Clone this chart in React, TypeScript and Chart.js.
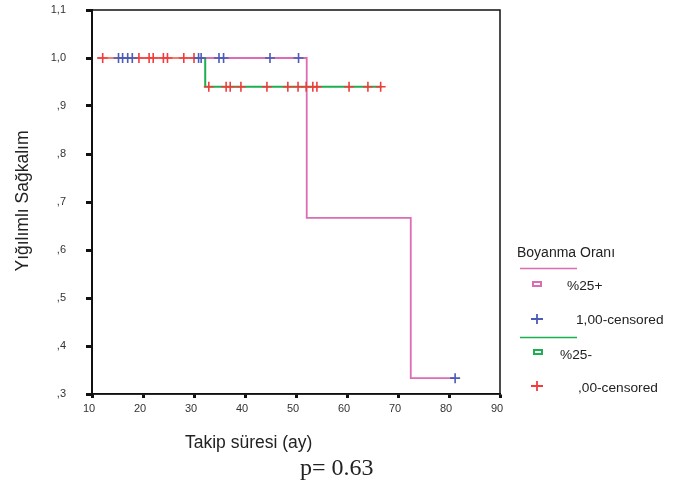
import React, { useEffect, useRef } from "react";
import { Chart, registerables } from "chart.js";

Chart.register(...registerables);

// Kaplan-Meier step curves (event times in months, survival after each time)
const pinkTimes = [11, 52.1, 72.5, 81.2];
const pinkSurv = [1, 0.667, 0.333, 0.333];
const greenTimes = [11, 32.2, 66.8];
const greenSurv = [1, 0.94, 0.94];

// censored observations
const blueCensorTimes = [15.2, 16.0, 17.0, 17.9, 30.9, 31.4, 34.9, 35.8, 44.9, 50.5, 81.2];
const blueCensorSurv = [1, 1, 1, 1, 1, 1, 1, 1, 1, 1, 0.333];
const redCensorTimes = [12.1, 19.2, 21.2, 22.0, 24.0, 24.8, 28.0, 30.0, 32.9, 36.3, 37.1, 39.2, 44.3, 48.4, 50.4, 52.0, 53.3, 54.1, 60.4, 64.1, 66.6];
const redCensorSurv = [1, 1, 1, 1, 1, 1, 1, 1, 0.94, 0.94, 0.94, 0.94, 0.94, 0.94, 0.94, 0.94, 0.94, 0.94, 0.94, 0.94, 0.94];

const xTicks = [10, 20, 30, 40, 50, 60, 70, 80, 90];
const yTicks = [0.3, 0.4, 0.5, 0.6, 0.7, 0.8, 0.9, 1.0, 1.1];

const PINK = "#dc6cb4";
const GREEN = "#1fae52";
const SALMON = "#f08070";
const BLUE = "#4a5cb6";
const RED = "#f23c3c";
const FONT = "'Liberation Sans', Arial, sans-serif";

function steps(times: number[], surv: number[]) {
  const pts: { x: number; y: number }[] = [{ x: times[0], y: surv[0] }];
  for (let i = 1; i < times.length; i++) {
    pts.push({ x: times[i], y: surv[i - 1] });
    pts.push({ x: times[i], y: surv[i] });
  }
  return pts;
}

function fmtY(v: number) {
  const s = v.toFixed(1).replace(".", ",");
  return s.startsWith("0") ? s.slice(1) : s;
}

const overlay = {
  id: "overlay",
  afterDraw(chart: any) {
    const ctx = chart.ctx as CanvasRenderingContext2D;
    const a = chart.chartArea;
    ctx.save();
    // frame
    ctx.strokeStyle = "#111";
    ctx.lineWidth = 1.5;
    ctx.strokeRect(a.left, a.top, a.right - a.left, a.bottom - a.top);
    ctx.lineWidth = 2;
    ctx.beginPath();
    ctx.moveTo(a.left, a.top);
    ctx.lineTo(a.left, a.bottom);
    ctx.stroke();

    // y title
    ctx.fillStyle = "#222";
    ctx.font = `17.5px ${FONT}`;
    ctx.textAlign = "center";
    ctx.textBaseline = "middle";
    ctx.save();
    ctx.translate(23, 201);
    ctx.rotate(-Math.PI / 2);
    ctx.fillText("Yığılımlı Sağkalım", 0, 0);
    ctx.restore();

    // x title
    ctx.textAlign = "left";
    ctx.font = `17.5px ${FONT}`;
    ctx.fillText("Takip süresi (ay)", 185, 443);
    ctx.font = `24px 'Liberation Serif', 'Times New Roman', serif`;
    ctx.fillText("p= 0.63", 300, 469);

    // legend
    ctx.font = `14px ${FONT}`;
    ctx.fillText("Boyanma Oranı", 517, 253);
    ctx.lineWidth = 1.5;
    ctx.strokeStyle = PINK;
    ctx.beginPath();
    ctx.moveTo(520, 268.5);
    ctx.lineTo(577, 268.5);
    ctx.stroke();
    ctx.lineWidth = 2;
    ctx.strokeRect(533, 282, 8, 4);
    ctx.font = `13.7px ${FONT}`;
    ctx.fillText("%25+", 567, 286.5);

    const plus = (cx: number, cy: number, c: string) => {
      ctx.strokeStyle = c;
      ctx.lineWidth = 1.8;
      ctx.beginPath();
      ctx.moveTo(cx - 6, cy);
      ctx.lineTo(cx + 6, cy);
      ctx.moveTo(cx, cy - 5);
      ctx.lineTo(cx, cy + 5);
      ctx.stroke();
    };
    plus(537, 319, BLUE);
    ctx.fillText("1,00-censored", 576, 320.5);

    ctx.lineWidth = 1.5;
    ctx.strokeStyle = GREEN;
    ctx.beginPath();
    ctx.moveTo(520, 337.5);
    ctx.lineTo(577, 337.5);
    ctx.stroke();
    ctx.lineWidth = 2;
    ctx.strokeRect(534, 350, 8, 4);
    ctx.fillText("%25-", 560, 355.5);

    plus(537, 386, RED);
    ctx.fillText(",00-censored", 578, 388.5);
    ctx.restore();
  },
};

export default function App() {
  const ref = useRef<HTMLCanvasElement>(null);
  useEffect(() => {
    if (!ref.current) return;
    const chart = new Chart(ref.current, {
      type: "scatter",
      data: {
        datasets: [
          {
            label: "1,00-censored",
            data: blueCensorTimes.map((x, i) => ({ x, y: blueCensorSurv[i] })),
            pointStyle: "cross",
            pointRadius: 5,
            borderWidth: 1.6,
            borderColor: BLUE,
            backgroundColor: BLUE,
            showLine: false,
          },
          {
            label: ",00-censored",
            data: redCensorTimes.map((x, i) => ({ x, y: redCensorSurv[i] })),
            pointStyle: "cross",
            pointRadius: 5,
            borderWidth: 1.6,
            borderColor: RED,
            backgroundColor: RED,
            showLine: false,
          },
          {
            label: "%25-",
            data: steps(greenTimes, greenSurv),
            showLine: true,
            pointRadius: 0,
            borderWidth: 2,
            borderColor: GREEN,
            segment: {
              borderColor: (c: any) =>
                c.p0.parsed.y === 1 && c.p1.parsed.y === 1 ? SALMON : undefined,
            },
          },
          {
            label: "%25+",
            data: steps(pinkTimes, pinkSurv),
            showLine: true,
            pointRadius: 0,
            borderWidth: 1.8,
            borderColor: PINK,
          },
        ],
      },
      options: {
        responsive: false,
        animation: false,
        layout: { padding: { left: 0, right: 180, top: 10, bottom: 0 } },
        plugins: { legend: { display: false }, tooltip: { enabled: false } },
        scales: {
          x: {
            type: "linear",
            min: 10,
            max: 90,
            afterFit: (s: any) => {
              s.height = 94;
              s.paddingLeft = 0;
              s.paddingRight = 0;
            },
            afterBuildTicks: (s: any) => {
              s.ticks = xTicks.map((v) => ({ value: v }));
            },
            grid: {
              display: true,
              drawOnChartArea: false,
              drawTicks: true,
              tickLength: 4,
              tickWidth: 3,
              tickColor: "#111",
            },
            border: { display: true, color: "#111", width: 1.5 },
            ticks: {
              color: "#333",
              font: { size: 11, family: FONT },
              padding: 4,
              labelOffset: -3,
              maxRotation: 0,
              autoSkip: false,
            },
          },
          y: {
            type: "linear",
            min: 0.3,
            max: 1.1,
            afterFit: (s: any) => {
              s.width = 92;
              s.paddingTop = 0;
              s.paddingBottom = 0;
            },
            afterBuildTicks: (s: any) => {
              s.ticks = yTicks.map((v) => ({ value: v }));
            },
            grid: {
              display: true,
              drawOnChartArea: false,
              drawTicks: true,
              tickLength: 6,
              tickWidth: 3,
              tickColor: "#111",
            },
            border: { display: true, color: "#111", width: 2 },
            ticks: {
              color: "#333",
              font: { size: 11, family: FONT },
              padding: 20,
              callback: (v: any) => fmtY(Number(v)),
              autoSkip: false,
            },
          },
        },
      },
      plugins: [overlay],
    } as any);
    return () => chart.destroy();
  }, []);
  return (
    <div style={{ position: "absolute", left: 0, top: 0, width: 680, height: 488, background: "#fff" }}>
      <canvas ref={ref} width={680} height={488} style={{ display: "block" }} />
    </div>
  );
}
